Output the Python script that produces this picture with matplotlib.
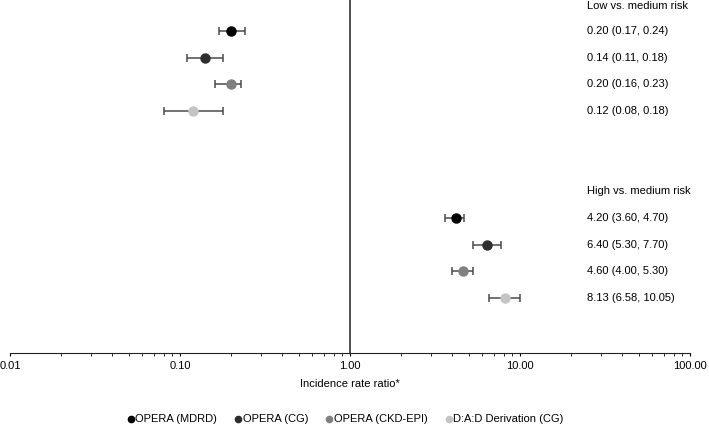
import matplotlib
matplotlib.use("Agg")
import matplotlib.pyplot as plt
from matplotlib.lines import Line2D
import matplotlib.transforms as mtransforms

plt.rcParams['font.family'] = ['Liberation Sans', 'DejaVu Sans']

series = ["OPERA (MDRD)", "OPERA (CG)", "OPERA (CKD-EPI)", "D:A:D Derivation (CG)"]
colors = ["#000000", "#2e2e2e", "#808080", "#c4c4c4"]

groups = ["Low vs. medium risk", "High vs. medium risk"]
low_est = [0.20, 0.14, 0.20, 0.12]
low_lo = [0.17, 0.11, 0.16, 0.08]
low_hi = [0.24, 0.18, 0.23, 0.18]
high_est = [4.20, 6.40, 4.60, 8.13]
high_lo = [3.60, 5.30, 4.00, 6.58]
high_hi = [4.70, 7.70, 5.30, 10.05]
low_labels = ["0.20 (0.17, 0.24)", "0.14 (0.11, 0.18)", "0.20 (0.16, 0.23)", "0.12 (0.08, 0.18)"]
high_labels = ["4.20 (3.60, 4.70)", "6.40 (5.30, 7.70)", "4.60 (4.00, 5.30)", "8.13 (6.58, 10.05)"]
xticks = [0.01, 0.1, 1, 10, 100]
xticklabels = ["0.01", "0.10", "1.00", "10.00", "100.00"]

fig = plt.figure(figsize=(7.09, 4.26), dpi=100)
ax = fig.add_axes([10/709, 1 - 352.5/426, 680/709, 352.5/426])

low_y = [0, 1, 2, 3]
high_y = [7, 8, 9, 10]
header_y = [-0.93, 6]

for ests, los, his, ys in [(low_est, low_lo, low_hi, low_y), (high_est, high_lo, high_hi, high_y)]:
    for i in range(4):
        ax.errorbar(ests[i], ys[i], xerr=[[ests[i] - los[i]], [his[i] - ests[i]]],
                    fmt='o', color=colors[i], ecolor='#4a4a4a', elinewidth=1.1,
                    capsize=2.6, capthick=1.1, markersize=6.5, zorder=3)

ax.axvline(1, color='#222222', linewidth=1.1, zorder=1)
ax.set_xscale('log')
ax.set_xlim(0.01, 100)
ax.set_ylim(12.04, -1.16)
ax.set_xticks(xticks)
ax.set_xticklabels(xticklabels, fontsize=8)
ax.tick_params(axis='x', which='major', length=2, direction='out', width=0.8, pad=4.2)
ax.tick_params(axis='x', which='minor', length=2, direction='out', width=0.6)
ax.set_yticks([])
for s in ['left', 'right', 'top']:
    ax.spines[s].set_visible(False)
ax.spines['bottom'].set_linewidth(0.8)
ax.spines['bottom'].set_color('#222222')
ax.set_xlabel("Incidence rate ratio*", fontsize=8, labelpad=6)

trans = mtransforms.blended_transform_factory(fig.transFigure, ax.transData)
tx = 587/709
ax.text(tx, header_y[0], groups[0], transform=trans, fontsize=8, va='center', ha='left', clip_on=False)
ax.text(tx, header_y[1], groups[1], transform=trans, fontsize=8, va='center', ha='left', clip_on=False)
for i in range(4):
    ax.text(tx, low_y[i], low_labels[i], transform=trans, fontsize=8, va='center', ha='left', clip_on=False)
    ax.text(tx, high_y[i], high_labels[i], transform=trans, fontsize=8, va='center', ha='left', clip_on=False)

handles = [Line2D([0], [0], marker='o', linestyle='none', color=c, markersize=4.5) for c in colors]
fig.legend(handles, series, loc='center', bbox_to_anchor=(345/709, 1 - 419.5/426), ncol=4,
           frameon=False, fontsize=8, handletextpad=0.0, columnspacing=1.5, handlelength=0.8,
           borderpad=0.1)

fig.savefig("out.png", dpi=100)
